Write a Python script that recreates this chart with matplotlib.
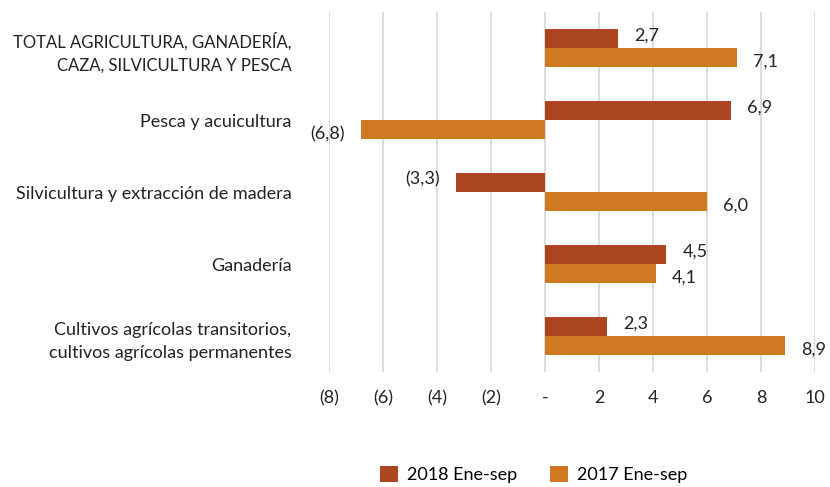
import matplotlib.pyplot as plt
import numpy as np

plt.rcParams["font.family"] = ["Lato", "DejaVu Sans"]

categories = [
    "TOTAL AGRICULTURA, GANADERÍA,\nCAZA, SILVICULTURA Y PESCA",
    "Pesca y acuicultura",
    "Silvicultura y extracción de madera",
    "Ganadería",
    "Cultivos agrícolas transitorios,\ncultivos agrícolas permanentes",
]
values_2018 = [2.7, 6.9, -3.3, 4.5, 2.3]
values_2017 = [7.1, -6.8, 6.0, 4.1, 8.9]
series_names = ["2018 Ene-sep", "2017 Ene-sep"]
xticks = [-8, -6, -4, -2, 0, 2, 4, 6, 8, 10]

COLOR_2018 = "#AD4520"
COLOR_2017 = "#CF7A23"
FS = 13


def fmt(v):
    if v == 0:
        return "-"
    s = f"{abs(v):.1f}".replace(".", ",")
    return f"({s})" if v < 0 else s


def tick_fmt(v):
    if v == 0:
        return "-"
    return f"({abs(v)})" if v < 0 else f"{v}"


fig = plt.figure(figsize=(8.3, 4.87), dpi=100)
ax = fig.add_axes([0.3964, 0.236, 0.5855, 0.739])

y = np.arange(len(categories))
h = 0.265
ax.barh(y - h / 2, values_2018, height=h, color=COLOR_2018, label=series_names[0], zorder=3)
ax.barh(y + h / 2, values_2017, height=h, color=COLOR_2017, label=series_names[1], zorder=3)

for yi, v in zip(y - h / 2, values_2018):
    off = 0.6 if v >= 0 else -0.6
    ax.text(v + off, yi - 0.04, fmt(v), ha="left" if v >= 0 else "right", va="center",
            fontsize=FS, color="#222222")
for yi, v in zip(y + h / 2, values_2017):
    off = 0.6 if v >= 0 else -0.6
    ax.text(v + off, yi + 0.06, fmt(v), ha="left" if v >= 0 else "right", va="center",
            fontsize=FS, color="#222222")

ax.set_xlim(-8, 10)
ax.set_ylim(len(categories) - 0.5, -0.5)
ax.set_xticks(xticks)
ax.set_xticklabels([tick_fmt(t) for t in xticks])
ax.set_yticks(y)
ax.set_yticklabels(categories, ha="right", multialignment="right", linespacing=1.55)
ax.tick_params(axis="y", length=0, pad=27, labelsize=FS, labelcolor="#222222")
ax.tick_params(axis="x", length=0, pad=13, labelsize=FS, labelcolor="#222222")
# uppercase title label is wider in this font, shrink it to fit the left margin
ax.get_yticklabels()[0].set_fontsize(12)
ax.grid(axis="x", color="#D9D9D9", linewidth=1.3, zorder=0)
for s in ax.spines.values():
    s.set_visible(False)

fig.legend(loc="center", bbox_to_anchor=(0.643, 0.025), ncol=2, frameon=False,
           fontsize=FS, handlelength=1.0, handleheight=1.0, columnspacing=1.8,
           handletextpad=0.5)

fig.savefig("out.png", dpi=100)
